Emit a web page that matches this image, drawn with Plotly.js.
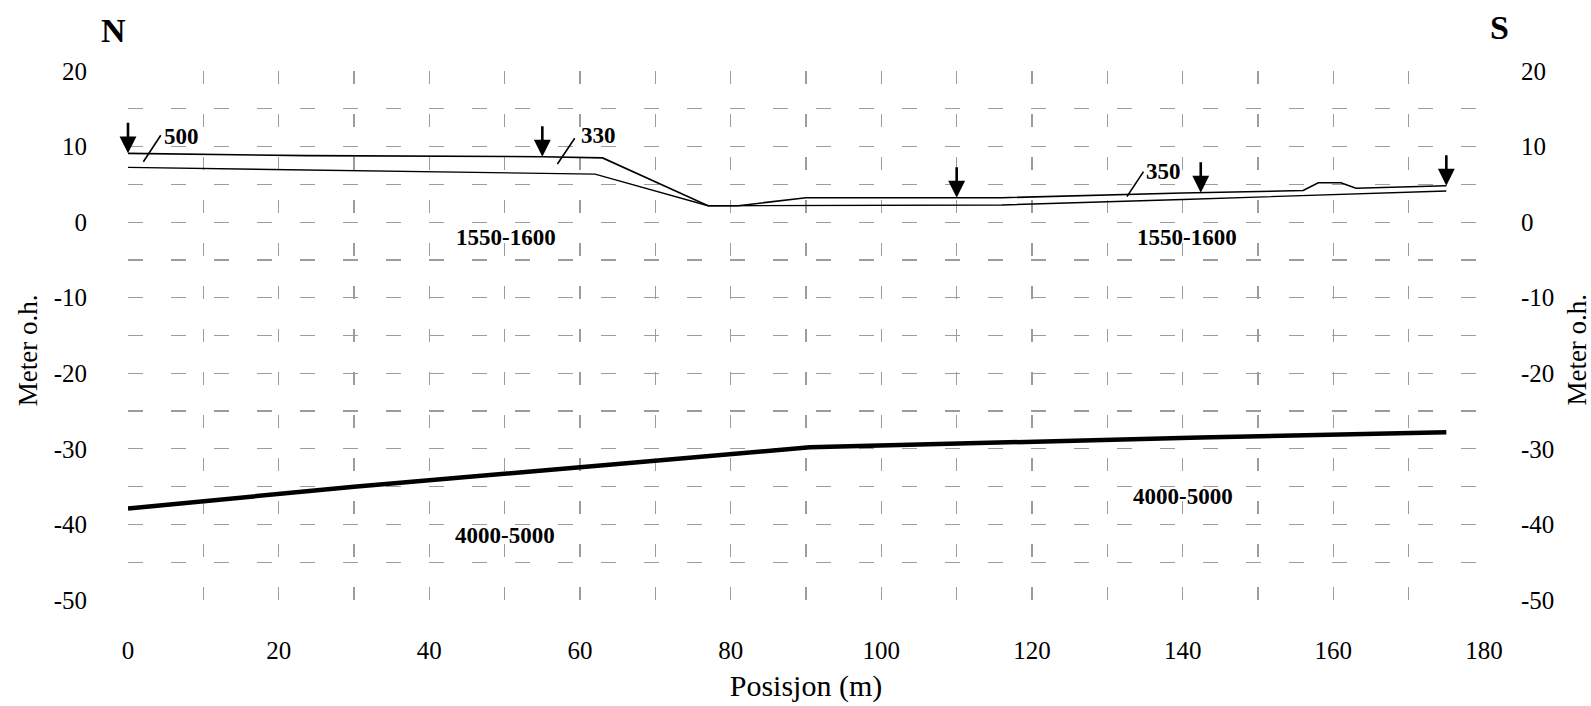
<!DOCTYPE html>
<html>
<head>
<meta charset="utf-8">
<script src="https://cdn.plot.ly/plotly-3.0.1.min.js"></script>
<style>
html,body{margin:0;padding:0;background:#fff;}
#chart{width:1591px;height:706px;}
</style>
</head>
<body>
<div id="chart"></div>
<script>
// ---- Data ----
// Upper boundary (top line)
const topX = [0, 10, 23.7, 55, 63, 77, 81, 90, 116, 140, 156, 158, 161, 163, 175];
const topY = [9.1, 8.97, 8.8, 8.66, 8.5, 2.17, 2.17, 3.23, 3.23, 3.85, 4.18, 5.22, 5.22, 4.48, 4.82];
// Lower boundary of upper layer (second thin line)
const botX = [0, 30, 62, 77, 116, 140, 175];
const botY = [7.25, 6.8, 6.35, 2.17, 2.27, 3.0, 4.12];
// Deep reflector (thick line)
const deepX = [0, 30, 62.7, 76, 90.5, 142.3, 175];
const deepY = [-37.9, -35.0, -32.2, -31.1, -29.8, -28.5, -27.8];
// Arrow marker positions (x along profile)
const arrowX = [0, 55, 110, 142.4, 175];
// Leader lines for velocity labels: [x0, y0, x1, y1]
const leaderX0 = [2.04, 57.0, 132.6];
const leaderY0 = [8.0, 7.69, 3.37];
const leaderX1 = [4.35, 59.3, 134.8];
const leaderY1 = [11.5, 11.1, 6.68];
// Velocity labels
const labelText = ['500', '330', '350', '1550-1600', '1550-1600', '4000-5000', '4000-5000'];
const labelX = [7.04, 62.4, 137.4, 50.2, 140.6, 50.0, 140.0];
const labelY = [11.3, 11.42, 6.73, -2.0, -2.0, -41.4, -36.3];
// Axis ticks
const xTicks = [0, 20, 40, 60, 80, 100, 120, 140, 160, 180];
const yTicks = [20, 10, 0, -10, -20, -30, -40, -50];
const yTitle = 'Meter o.h.';
const xTitle = 'Posisjon (m)';

// ---- helpers ----
function interp(xs, ys, x) {
  if (x <= xs[0]) return ys[0];
  for (let i = 1; i < xs.length; i++) {
    if (x <= xs[i]) {
      const t = (x - xs[i - 1]) / (xs[i] - xs[i - 1]);
      return ys[i - 1] + t * (ys[i] - ys[i - 1]);
    }
  }
  return ys[ys.length - 1];
}

const FONT = '"Liberation Serif", "Times New Roman", serif';
const GRID = '#9c9c9c';

const lx = [], ly = [];
for (let i = 0; i < leaderX0.length; i++) {
  lx.push(leaderX0[i], leaderX1[i], null);
  ly.push(leaderY0[i], leaderY1[i], null);
}

const traces = [
  {x: [], y: [], xaxis: 'x2', yaxis: 'y3', type: 'scatter', mode: 'lines', hoverinfo: 'skip', showlegend: false},
  {x: [], y: [], xaxis: 'x', yaxis: 'y2', type: 'scatter', mode: 'lines', hoverinfo: 'skip', showlegend: false},
  {x: botX, y: botY, type: 'scatter', mode: 'lines', line: {color: '#000', width: 1.4}, showlegend: false},
  {x: topX, y: topY, type: 'scatter', mode: 'lines', line: {color: '#000', width: 1.6}, showlegend: false},
  {x: deepX, y: deepY, type: 'scatter', mode: 'lines', line: {color: '#000', width: 4.5}, showlegend: false},
  {x: lx, y: ly, type: 'scatter', mode: 'lines', line: {color: '#000', width: 1.6}, showlegend: false, connectgaps: false}
];

const annotations = [];
labelText.forEach((t, i) => {
  annotations.push({
    x: labelX[i], y: labelY[i], xref: 'x', yref: 'y', text: '<b>' + t + '</b>',
    showarrow: false, font: {family: FONT, size: 23, color: '#000'}
  });
});
arrowX.forEach(x => {
  annotations.push({
    x: x, y: interp(topX, topY, x), xref: 'x', yref: 'y', text: '',
    showarrow: true, ax: 0, ay: -32, arrowhead: 2, arrowsize: 1.3, arrowwidth: 2.6, arrowcolor: '#000', standoff: 0
  });
});
annotations.push({x: -0.0107, y: 1.0775, xref: 'paper', yref: 'paper', xanchor: 'center', yanchor: 'middle',
  text: '<b>N</b>', showarrow: false, font: {family: FONT, size: 34, color: '#000'}});
annotations.push({x: 1.0111, y: 1.0828, xref: 'paper', yref: 'paper', xanchor: 'center', yanchor: 'middle',
  text: '<b>S</b>', showarrow: false, font: {family: FONT, size: 34, color: '#000'}});
// Y-axis titles (left and right), placed slightly below plot centre as in the reference
annotations.push({x: -0.0735, y: 0.4726, xref: 'paper', yref: 'paper', xanchor: 'center', yanchor: 'middle',
  text: yTitle, textangle: -90, showarrow: false, font: {family: FONT, size: 27, color: '#000'}});
annotations.push({x: 1.0683, y: 0.4726, xref: 'paper', yref: 'paper', xanchor: 'center', yanchor: 'middle',
  text: yTitle, textangle: -90, showarrow: false, font: {family: FONT, size: 27, color: '#000'}});

const layout = {
  width: 1591, height: 706,
  margin: {l: 128, r: 107, t: 71, b: 106},
  paper_bgcolor: '#fff', plot_bgcolor: '#fff',
  showlegend: false,
  font: {family: FONT, color: '#000', size: 25},
  xaxis: {
    range: [0, 180], tickmode: 'array', tickvals: xTicks, ticktext: xTicks.map(String),
    showgrid: false, zeroline: false, showline: false, ticks: '', ticklabelstandoff: 33,
    tickfont: {size: 25},
    title: {text: xTitle, font: {size: 30}, standoff: 11}
  },
  yaxis: {
    range: [-50, 20], tickmode: 'array', tickvals: yTicks, ticktext: yTicks.map(String),
    showgrid: false, zeroline: false, showline: false, ticks: '', ticklabelstandoff: 40,
    tickfont: {size: 25}
  },
  yaxis2: {
    overlaying: 'y', side: 'right', range: [-50, 20], tickmode: 'array', tickvals: yTicks, ticktext: yTicks.map(String),
    showgrid: false, zeroline: false, showline: false, ticks: '', ticklabelstandoff: 36,
    tickfont: {size: 25}
  },
  xaxis2: {
    overlaying: 'x', range: [0.0001, 180.0001], tick0: 0, dtick: 10,
    showgrid: true, gridcolor: GRID, gridwidth: 1.2, griddash: '13px,30px',
    showticklabels: false, ticks: '', zeroline: false, showline: false
  },
  yaxis3: {
    overlaying: 'y', range: [-49.999, 20.0001], tick0: 0, dtick: 5,
    showgrid: true, gridcolor: GRID, gridwidth: 1.2, griddash: '15px,28px',
    showticklabels: false, ticks: '', zeroline: false, showline: false
  },
  annotations: annotations
};

Plotly.newPlot('chart', traces, layout, {staticPlot: true, displayModeBar: false});
</script>
</body>
</html>
